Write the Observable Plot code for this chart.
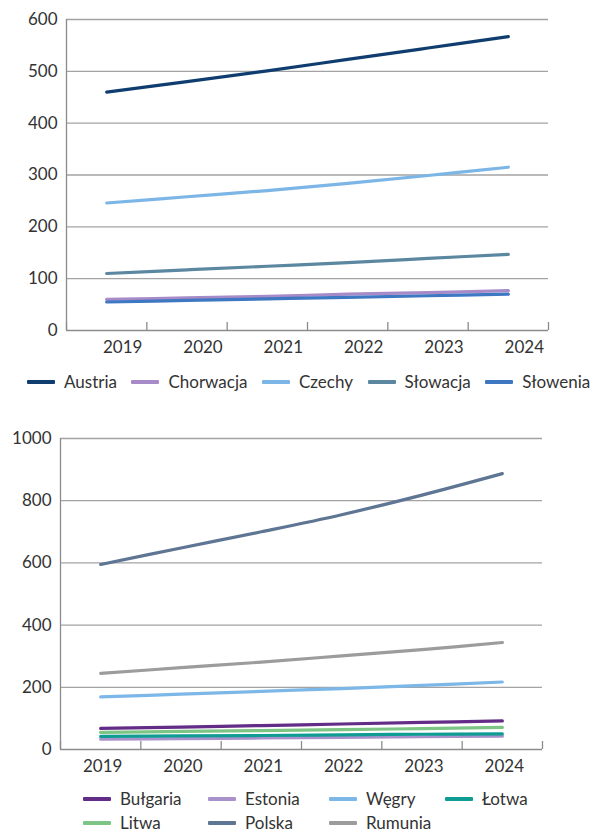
<!DOCTYPE html>
<html lang="pl">
<head>
<meta charset="utf-8">
<script src="https://cdn.jsdelivr.net/npm/d3@7"></script>
<script src="https://cdn.jsdelivr.net/npm/@observablehq/plot@0.6"></script>
<style>
  html, body { margin: 0; padding: 0; background: #fff; }
  #page { position: relative; width: 603px; height: 832px; overflow: hidden; font-family: Lato, "Noto Sans", sans-serif; color: #333; }
  .chart { position: absolute; left: 0; }
  .legend { position: absolute; font-size: 17px; line-height: 20px; color: #333; }
  .item { display: flex; align-items: center; gap: 9px; white-space: nowrap; }
  .swatch { width: 28px; height: 4px; border-radius: 1px; flex: none; }
</style>
</head>
<body>
<div id="page">
  <div class="chart" id="chart-top" style="top:0px"></div>
  <div class="legend" id="legend-top" style="left:27px; top:372px; display:flex; gap:14.5px"></div>
  <div class="chart" id="chart-bottom" style="top:420px"></div>
  <div class="legend" id="legend-bottom" style="left:83px; top:789px; display:grid; grid-template-columns:125px 121px 116px auto; row-gap:3.6px"></div>
</div>
<script>
// Years on the horizontal axis
const years = [2019, 2020, 2021, 2022, 2023, 2024];

// Upper panel
const topCountries = ["Austria", "Chorwacja", "Czechy", "Słowacja", "Słowenia"];
const austria   = [460, 480, 501, 523, 545, 567];
const chorwacja = [60, 63, 66, 70, 73, 77];
const czechy    = [246, 258, 270, 284, 299, 315];
const slowacja  = [110, 117, 124, 131, 139, 147];
const slowenia  = [55, 58, 61, 64, 67, 70];
const topTicks  = [0, 100, 200, 300, 400, 500, 600];

// Lower panel
const bottomCountries = ["Bułgaria", "Estonia", "Węgry", "Łotwa", "Litwa", "Polska", "Rumunia"];
const bulgaria = [68, 72, 77, 82, 87, 92];
const estonia  = [33, 35, 37, 39, 41, 43];
const wegry    = [169, 178, 187, 196, 206, 217];
const lotwa    = [42, 44, 45, 47, 49, 50];
const litwa    = [55, 58, 61, 64, 67, 71];
const polska   = [595, 648, 700, 755, 818, 887];
const rumunia  = [245, 263, 281, 301, 321, 344];
const bottomTicks = [0, 200, 400, 600, 800, 1000];

// Series colours
const topColors = ["#103d6f", "#a78bc8", "#7cb6e6", "#5b87a0", "#3e77c2"];
const bottomColors = ["#622c87", "#a992cc", "#7db7e7", "#0f9c93", "#7dc584", "#5e7593", "#9c9c9c"];

function longTable(names, series) {
  return names.flatMap((name, k) => years.map((year, i) => ({country: name, year, value: series[k][i]})));
}

// Category boundaries between the years (used for the small axis ticks)
const bounds = [2018.5, 2019.5, 2020.5, 2021.5, 2022.5, 2023.5, 2024.5];

function lineChart({data, names, colors, ticks, margins, height, labelShift}) {
  return Plot.plot({
    width: 603,
    height,
    ...margins,
    style: {fontFamily: "Lato, 'Noto Sans', sans-serif", fontSize: "17px", color: "#333", background: "transparent", overflow: "visible"},
    x: {type: "linear", domain: [2018.5, 2024.5], label: null},
    y: {domain: [ticks[0], ticks[ticks.length - 1]], label: null},
    color: {domain: names, range: colors},
    marks: [
      Plot.ruleY(ticks.filter((d) => d > 0), {stroke: "#a3a3a3", strokeWidth: 1.3}),
      Plot.ruleX([2018.5], {stroke: "#8c8c8c", strokeWidth: 1.3}),
      Plot.ruleX(bounds, {y1: 0, y2: 0, insetTop: -8, stroke: "#8c8c8c", strokeWidth: 1.3}),
      Plot.ruleY([0], {stroke: "#8c8c8c", strokeWidth: 1.3}),
      Plot.axisY(ticks, {tickSize: 0, tickPadding: 9, tickFormat: (d) => String(d), fill: "#333", label: null}),
      Plot.axisX(years, {tickSize: 0, tickPadding: 10, tickFormat: (d) => String(d), dx: labelShift, fill: "#333", label: null}),
      Plot.line(data, {x: "year", y: "value", z: "country", stroke: "country", strokeWidth: 3.2, strokeLinecap: "round", curve: "catmull-rom"})
    ]
  });
}

function legend(el, names, colors) {
  names.forEach((name, i) => {
    const item = document.createElement("div");
    item.className = "item";
    const sw = document.createElement("span");
    sw.className = "swatch";
    sw.style.background = colors[i];
    const label = document.createElement("span");
    label.textContent = name;
    item.append(sw, label);
    el.append(item);
  });
}

document.getElementById("chart-top").append(lineChart({
  data: longTable(topCountries, [austria, chorwacja, czechy, slowacja, slowenia]),
  names: topCountries,
  colors: topColors,
  ticks: topTicks,
  height: 365,
  margins: {marginTop: 19, marginBottom: 35, marginLeft: 66, marginRight: 55},
  labelShift: 16
}));
legend(document.getElementById("legend-top"), topCountries, topColors);

document.getElementById("chart-bottom").append(lineChart({
  data: longTable(bottomCountries, [bulgaria, estonia, wegry, lotwa, litwa, polska, rumunia]),
  names: bottomCountries,
  colors: bottomColors,
  ticks: bottomTicks,
  height: 366,
  margins: {marginTop: 18, marginBottom: 37, marginLeft: 60, marginRight: 61},
  labelShift: 2
}));
legend(document.getElementById("legend-bottom"), bottomCountries, bottomColors);
</script>
</body>
</html>
